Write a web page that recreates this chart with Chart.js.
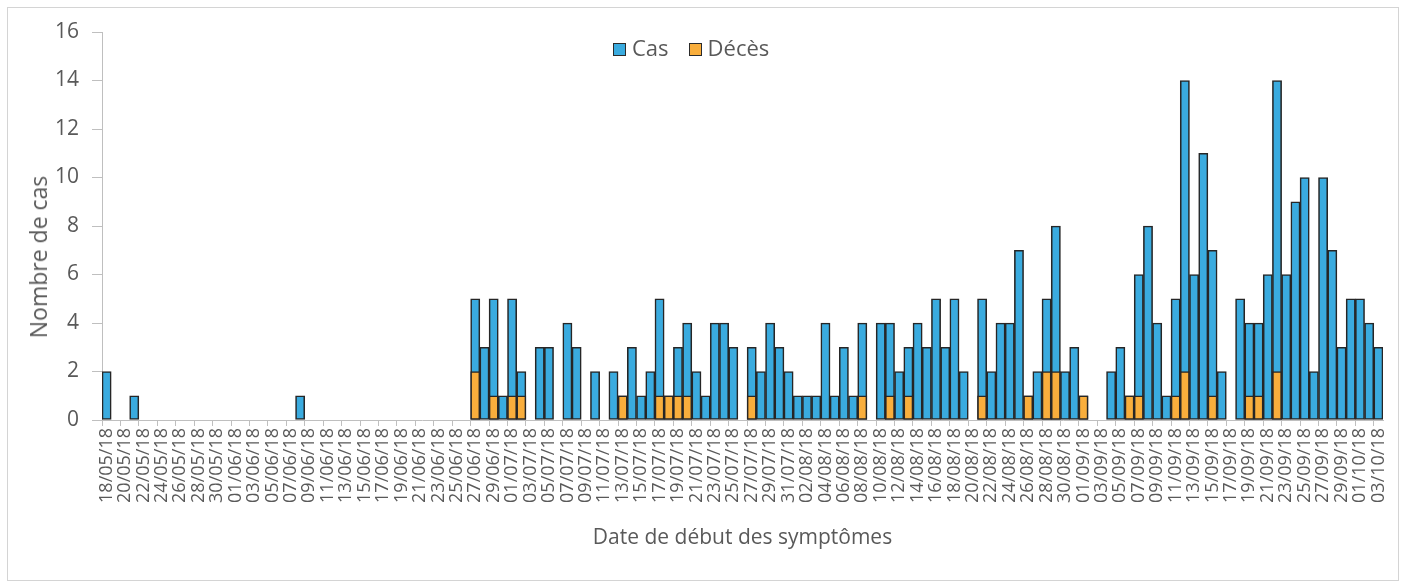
<!DOCTYPE html>
<html lang="fr">
<head>
  <meta charset="UTF-8" />
  <title>Cas et décès par date de début des symptômes</title>
  <script src="https://cdn.jsdelivr.net/npm/chart.js"></script>
  <style>
    html, body { margin: 0; padding: 0; background: #fff; }
    .wrap { position: relative; width: 1407px; height: 588px; }
    .wrap canvas { position: absolute; left: 0; top: 0; }
    .frame { position: absolute; left: 7px; top: 7px; width: 1390px; height: 572px; border: 1px solid #d4d4d4; }
    .legend { position: absolute; top: 32px; left: 613px; display: flex; gap: 20px;
              font-family: "Open Sans", sans-serif; font-size: 22px; color: #595959; }
    .legend span.box { display: inline-block; width: 11px; height: 11px; border: 1px solid #2b2b2b; margin-right: 6px; vertical-align: 0px; }
    .y-title { position: absolute; left: 38px; top: 257px; transform: translate(-50%, -50%) rotate(-90deg);
               white-space: nowrap; font-family: "Open Sans", sans-serif; font-size: 23px; color: #595959; }
  </style>
</head>
<body>
  <div class="wrap">
    <div class="frame"></div>
    <canvas id="epiChart" width="1407" height="588"></canvas>
    <div class="legend" id="legend"></div>
    <div class="y-title">Nombre de cas</div>
  </div>

  <script>
    // categories: one per day, 18/05/18 -> 03/10/18
    const startDate = new Date(2018, 4, 18);
    const nbDays = 139;
    const dates = [];
    for (let i = 0; i < nbDays; i++) {
      const d = new Date(startDate.getFullYear(), startDate.getMonth(), startDate.getDate() + i);
      const dd = String(d.getDate()).padStart(2, '0');
      const mm = String(d.getMonth() + 1).padStart(2, '0');
      dates.push(dd + '/' + mm + '/18');
    }

    // cas par jour
    const cas = [
      2, 0, 0, 1, 0, 0, 0, 0, 0, 0,   0, 0, 0, 0, 0, 0, 0, 0, 0, 0,
      0, 1, 0, 0, 0, 0, 0, 0, 0, 0,   0, 0, 0, 0, 0, 0, 0, 0, 0, 0,
      5, 3, 5, 1, 5, 2, 0, 3, 3, 0,   4, 3, 0, 2, 0, 2, 1, 3, 1, 2,
      5, 1, 3, 4, 2, 1, 4, 4, 3, 0,   3, 2, 4, 3, 2, 1, 1, 1, 4, 1,
      3, 1, 4, 0, 4, 4, 2, 3, 4, 3,   5, 3, 5, 2, 0, 5, 2, 4, 4, 7,
      1, 2, 5, 8, 2, 3, 1, 0, 0, 2,   3, 1, 6, 8, 4, 1, 5, 14, 6, 11,
      7, 2, 0, 5, 4, 4, 6, 14, 6, 9,  10, 2, 10, 7, 3, 5, 5, 4, 3
    ];

    // décès par jour
    const deces = [
      0, 0, 0, 0, 0, 0, 0, 0, 0, 0,   0, 0, 0, 0, 0, 0, 0, 0, 0, 0,
      0, 0, 0, 0, 0, 0, 0, 0, 0, 0,   0, 0, 0, 0, 0, 0, 0, 0, 0, 0,
      2, 0, 1, 0, 1, 1, 0, 0, 0, 0,   0, 0, 0, 0, 0, 0, 1, 0, 0, 0,
      1, 1, 1, 1, 0, 0, 0, 0, 0, 0,   1, 0, 0, 0, 0, 0, 0, 0, 0, 0,
      0, 0, 1, 0, 0, 1, 0, 1, 0, 0,   0, 0, 0, 0, 0, 1, 0, 0, 0, 0,
      1, 0, 2, 2, 0, 0, 1, 0, 0, 0,   0, 1, 1, 0, 0, 0, 1, 2, 0, 0,
      1, 0, 0, 0, 1, 1, 0, 2, 0, 0,   0, 0, 0, 0, 0, 0, 0, 0, 0
    ];

    const yTicks = [0, 2, 4, 6, 8, 10, 12, 14, 16];

    const textColor = '#595959';
    const axisColor = '#bfbfbf';

    const ctx = document.getElementById('epiChart').getContext('2d');
    const epiChart = new Chart(ctx, {
      type: 'bar',
      data: {
        labels: dates,
        datasets: [
          {
            label: 'Cas',
            data: cas,
            backgroundColor: '#3aabdf',
            borderColor: '#262626',
            borderWidth: 1.6,
            borderSkipped: false,
            grouped: false,
            order: 2
          },
          {
            label: 'Décès',
            data: deces,
            backgroundColor: '#f9ae3c',
            borderColor: '#262626',
            borderWidth: 1.6,
            borderSkipped: false,
            grouped: false,
            order: 1
          }
        ]
      },
      options: {
        responsive: false,
        animation: false,
        layout: { padding: { left: 22, right: 24, top: 32, bottom: 33 } },
        categoryPercentage: 1,
        barPercentage: 1,
        plugins: {
          legend: { display: false },
          tooltip: { enabled: false }
        },
        scales: {
          x: {
            grid: {
              drawOnChartArea: false,
              offset: true,
              tickLength: 6,
              color: (c) => (c.index % 2 === 0 ? axisColor : 'rgba(0,0,0,0)')
            },
            border: { color: axisColor },
            ticks: {
              autoSkip: false,
              minRotation: 90,
              maxRotation: 90,
              padding: 2,
              color: textColor,
              font: { family: 'Open Sans', size: 18 },
              callback: function (value, index) {
                return index % 2 === 0 ? dates[index] : '';
              }
            },
            title: {
              display: true,
              text: 'Date de début des symptômes',
              color: textColor,
              font: { family: 'Open Sans', size: 21 }
            },
            afterFit: (scale) => { scale.height = 135; }
          },
          y: {
            min: yTicks[0],
            max: yTicks[yTicks.length - 1],
            afterBuildTicks: (scale) => { scale.ticks = yTicks.map(v => ({ value: v })); },
            grid: { drawOnChartArea: false, tickLength: 10, color: axisColor },
            border: { color: axisColor },
            ticks: {
              padding: 13,
              color: textColor,
              font: { family: 'Open Sans', size: 21 }
            },
            afterFit: (scale) => { scale.width = 80; }
          }
        }
      }
    });

    // légende HTML (Cas puis Décès)
    const legend = document.getElementById('legend');
    epiChart.data.datasets.forEach(ds => {
      const item = document.createElement('div');
      item.innerHTML = '<span class="box" style="background:' + ds.backgroundColor + '"></span>' + ds.label;
      legend.appendChild(item);
    });
  </script>
</body>
</html>
